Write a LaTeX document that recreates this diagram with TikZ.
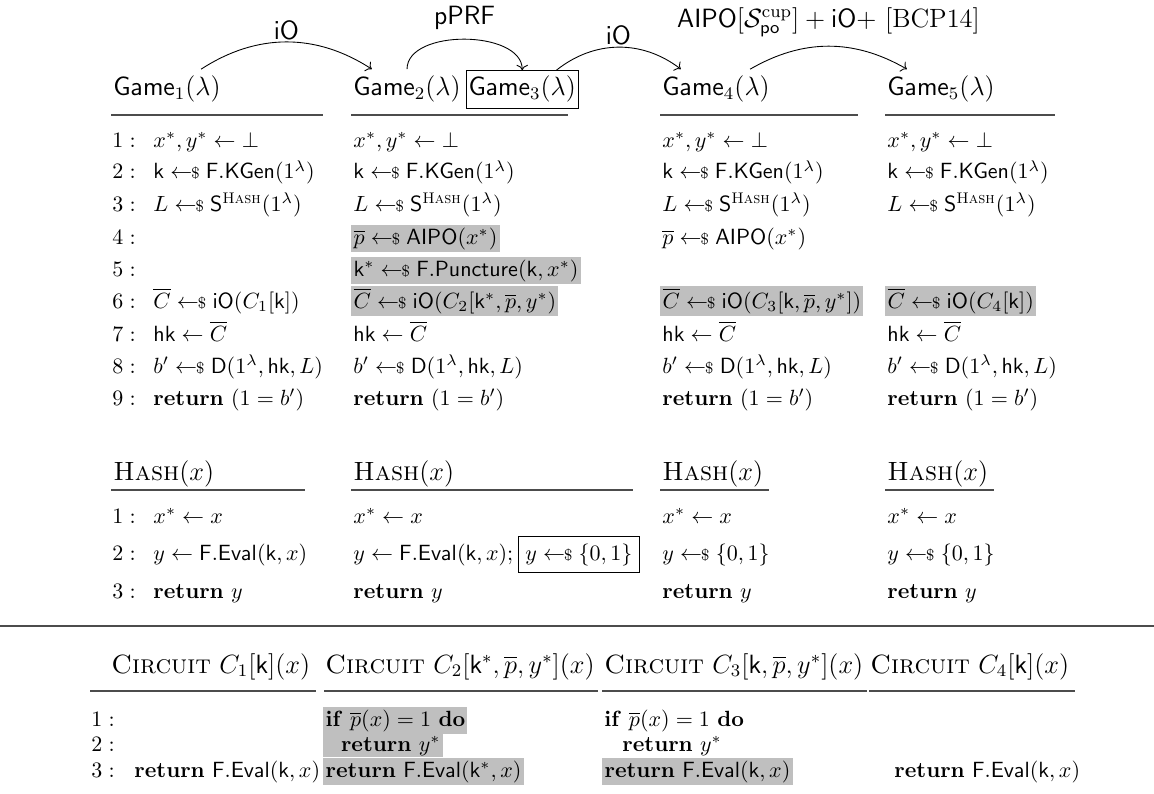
\documentclass[tikz,border=0pt]{standalone}
\usepackage{amsmath}
\usepackage{amssymb}
\usepackage{xcolor}
\usepackage{tikz}
\usetikzlibrary{arrows.meta,positioning,calc}

\newcommand{\smp}{\mathrel{\gets\!\!\mbox{\scriptsize\$}}}
\newcommand{\hsh}{\text{\textsc{Hash}}}

\begin{document}
\begin{tikzpicture}[
    x=0.4545pt, y=-0.4545pt,
    title/.style={anchor=base west, inner sep=0pt, font=\large},
    code/.style={anchor=base west, inner sep=0pt},
    hl/.style={code, fill=gray!50, inner sep=1pt},
    rulebar/.style={line width=0.75pt, black!70},
    arrow/.style={->, thin},
    lbl/.style={font=\large, inner sep=1pt}
]
    \useasboundingbox (0,0) rectangle (1154,793);

    % Game headers
    \node[title] (g1) at (113,96) {$\mathsf{Game}_1(\lambda)$};
    \node[title] (g2) at (353,96) {$\mathsf{Game}_2(\lambda)$};
    \node[title, draw, inner xsep=1pt, inner ysep=2.5pt] (g3) at (466,96) {$\mathsf{Game}_3(\lambda)$};
    \node[title] (g4) at (662,96) {$\mathsf{Game}_4(\lambda)$};
    \node[title] (g5) at (887,96) {$\mathsf{Game}_5(\lambda)$};
    \draw[rulebar] (111,115) -- (323,115);
    \draw[rulebar] (351,115) -- (568,115);
    \draw[rulebar] (660,115) -- (858,115);
    \draw[rulebar] (885,115) -- (1055,115);

    % Hops
    \draw[arrow] ([xshift=15.5pt, yshift=3pt]g1.north) to[bend left=33]
        node[lbl, above] (hop1) {$\mathsf{iO}$} ([xshift=-16pt, yshift=3pt]g2.north);
    \draw[arrow] ([yshift=3pt]g2.north) to[out=90, in=90, looseness=0.9]
        node[lbl, above=3pt] (hop2) {$\mathsf{pPRF}$} (g3.north);
    \draw[arrow] ([xshift=15.5pt]g3.north) to[bend left=38]
        node[lbl, above] (hop3) {$\mathsf{iO}$} ([xshift=-16pt, yshift=3pt]g4.north);
    \draw[arrow] ([xshift=15.5pt, yshift=3pt]g4.north) to[bend left=30]
        node[lbl, above=3pt] (hop4) {$\mathsf{AIPO}[\mathcal{S}^{\mathrm{cup}}_{\mathsf{po}}] + \mathsf{iO}+$ [BCP14]} ([xshift=-15.5pt, yshift=3pt]g5.north);

    % Game lines
    \foreach \i/\y in {1/147,2/179,3/211,4/244,5/276,6/308,7/341,8/373,9/405}
        \node[code] (gn\i) at (112,\y) {$\i:$};

    \node[code] (a1) at (153,147) {$x^*, y^* \gets \bot$};
    \node[code] (a2) at (153,179) {$\mathsf{k} \smp \mathsf{F.KGen}(1^\lambda)$};
    \node[code] (a3) at (153,211) {$L \smp \mathsf{S}^{\hsh}(1^\lambda)$};
    \node[code] (a6) at (153,308) {$\overline{C} \smp \mathsf{iO}(C_1[\mathsf{k}])$};
    \node[code] (a7) at (153,341) {$\mathsf{hk} \gets \overline{C}$};
    \node[code] (a8) at (153,373) {$b' \smp \mathsf{D}(1^\lambda, \mathsf{hk}, L)$};
    \node[code] (a9) at (153,405) {$\mathbf{return}\ (1 = b')$};

    \node[code] (b1) at (353,147) {$x^*, y^* \gets \bot$};
    \node[code] (b2) at (353,179) {$\mathsf{k} \smp \mathsf{F.KGen}(1^\lambda)$};
    \node[code] (b3) at (353,211) {$L \smp \mathsf{S}^{\hsh}(1^\lambda)$};
    \node[hl] (b4) at (351,244) {$\overline{p} \smp \mathsf{AIPO}(x^*)$};
    \node[hl] (b5) at (351,276) {$\mathsf{k}^* \smp \mathsf{F.Puncture}(\mathsf{k}, x^*)$};
    \node[hl] (b6) at (351,308) {$\overline{C} \smp \mathsf{iO}(C_2[\mathsf{k}^*, \overline{p}, y^*)$};
    \node[code] (b7) at (353,341) {$\mathsf{hk} \gets \overline{C}$};
    \node[code] (b8) at (353,373) {$b' \smp \mathsf{D}(1^\lambda, \mathsf{hk}, L)$};
    \node[code] (b9) at (353,405) {$\mathbf{return}\ (1 = b')$};

    \node[code] (c1) at (662,147) {$x^*, y^* \gets \bot$};
    \node[code] (c2) at (662,179) {$\mathsf{k} \smp \mathsf{F.KGen}(1^\lambda)$};
    \node[code] (c3) at (662,211) {$L \smp \mathsf{S}^{\hsh}(1^\lambda)$};
    \node[code] (c4) at (662,244) {$\overline{p} \smp \mathsf{AIPO}(x^*)$};
    \node[hl] (c6) at (660,308) {$\overline{C} \smp \mathsf{iO}(C_3[\mathsf{k}, \overline{p}, y^*])$};
    \node[code] (c7) at (662,341) {$\mathsf{hk} \gets \overline{C}$};
    \node[code] (c8) at (662,373) {$b' \smp \mathsf{D}(1^\lambda, \mathsf{hk}, L)$};
    \node[code] (c9) at (662,405) {$\mathbf{return}\ (1 = b')$};

    \node[code] (d1) at (887,147) {$x^*, y^* \gets \bot$};
    \node[code] (d2) at (887,179) {$\mathsf{k} \smp \mathsf{F.KGen}(1^\lambda)$};
    \node[code] (d3) at (887,211) {$L \smp \mathsf{S}^{\hsh}(1^\lambda)$};
    \node[hl] (d6) at (885,308) {$\overline{C} \smp \mathsf{iO}(C_4[\mathsf{k}])$};
    \node[code] (d7) at (887,341) {$\mathsf{hk} \gets \overline{C}$};
    \node[code] (d8) at (887,373) {$b' \smp \mathsf{D}(1^\lambda, \mathsf{hk}, L)$};
    \node[code] (d9) at (887,405) {$\mathbf{return}\ (1 = b')$};

    % Hash oracles
    \node[title] (h1) at (113,480) {\textsc{Hash}$(x)$};
    \node[title] (h2) at (353,480) {\textsc{Hash}$(x)$};
    \node[title] (h3) at (662,480) {\textsc{Hash}$(x)$};
    \node[title] (h4) at (887,480) {\textsc{Hash}$(x)$};
    \draw[rulebar] (111,490) -- (305,490);
    \draw[rulebar] (351,490) -- (633,490);
    \draw[rulebar] (660,490) -- (769,490);
    \draw[rulebar] (885,490) -- (994,490);

    \foreach \i/\y in {1/523,2/560,3/598}
        \node[code] (hn\i) at (112,\y) {$\i:$};

    \node[code] (ha1) at (153,523) {$x^* \gets x$};
    \node[code] (ha2) at (153,560) {$y \gets \mathsf{F.Eval}(\mathsf{k}, x)$};
    \node[code] (ha3) at (153,598) {$\mathbf{return}\ y$};

    \node[code] (hb1) at (353,523) {$x^* \gets x$};
    \node[code] (hb2) at (353,560) {$y \gets \mathsf{F.Eval}(\mathsf{k}, x);$};
    \node[code, draw, line width=0.5pt, inner sep=3pt, anchor=base west] (hbox) at ([xshift=2pt]hb2.base east) {$y \smp \{0,1\}$};
    \node[code] (hb3) at (353,598) {$\mathbf{return}\ y$};

    \node[code] (hc1) at (662,523) {$x^* \gets x$};
    \node[code] (hc2) at (662,560) {$y \smp \{0,1\}$};
    \node[code] (hc3) at (662,598) {$\mathbf{return}\ y$};

    \node[code] (hd1) at (887,523) {$x^* \gets x$};
    \node[code] (hd2) at (887,560) {$y \smp \{0,1\}$};
    \node[code] (hd3) at (887,598) {$\mathbf{return}\ y$};

    % Separator
    \draw[line width=0.85pt, black!70] (0,626) -- (1154,626);

    % Circuits
    \node[title] (k1) at (111,673) {\textsc{Circuit} $C_1[\mathsf{k}](x)$};
    \node[title] (k2) at (325,673) {\textsc{Circuit} $C_2[\mathsf{k}^*, \overline{p}, y^*](x)$};
    \node[title] (k3) at (604,673) {\textsc{Circuit} $C_3[\mathsf{k}, \overline{p}, y^*](x)$};
    \node[title] (k4) at (870,673) {\textsc{Circuit} $C_4[\mathsf{k}](x)$};
    \draw[rulebar] (90,691) -- (316,691);
    \draw[rulebar] (324,691) -- (598,691);
    \draw[rulebar] (602,691) -- (867,691);
    \draw[rulebar] (869,691) -- (1075,691);

    \foreach \i/\y in {1/726,2/751,3/777}
        \node[code] (kn\i) at (91,\y) {$\i:$};

    \node[code] (ka3) at (134,777) {$\mathbf{return}\ \mathsf{F.Eval}(\mathsf{k}, x)$};

    \node[hl] (kb1) at (323,726) {$\mathbf{if}\ \overline{p}(x) = 1\ \mathbf{do}$};
    \node[hl] (kb2) at (323,751) {\hspace{7pt}$\mathbf{return}\ y^*$};
    \node[hl] (kb3) at (323,777) {$\mathbf{return}\ \mathsf{F.Eval}(\mathsf{k}^*, x)$};

    \node[code] (kc1) at (604,726) {$\mathbf{if}\ \overline{p}(x) = 1\ \mathbf{do}$};
    \node[code] (kc2) at (622,751) {$\mathbf{return}\ y^*$};
    \node[hl] (kc3) at (602,777) {$\mathbf{return}\ \mathsf{F.Eval}(\mathsf{k}, x)$};

    \node[code] (kd3) at (894,777) {$\mathbf{return}\ \mathsf{F.Eval}(\mathsf{k}, x)$};
\end{tikzpicture}
\end{document}
